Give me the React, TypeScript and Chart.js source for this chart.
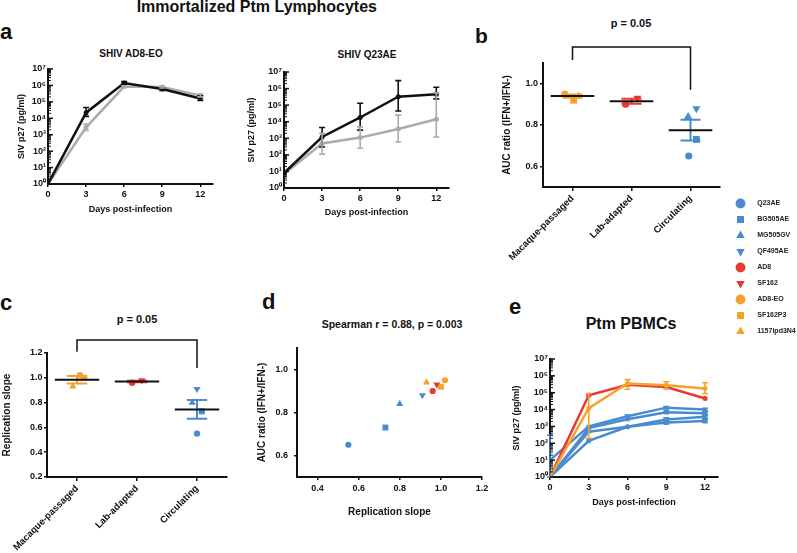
import React, { useEffect, useRef } from "react";
import { Chart, registerables } from "chart.js";
Chart.register(...registerables);

const FONT = '"Liberation Sans", Arial, Helvetica, sans-serif';
Chart.defaults.font.family = FONT;
Chart.defaults.font.weight = "bold";
Chart.defaults.color = "#111";

const BLUE = "#4a8bd0";
const RED = "#e63b2e";
const ORANGE = "#f5a22c";
const GREY = "#ababab";
const BLACK = "#111";

// ---------------- data ----------------
const days = [0, 3, 6, 9, 12];
const logTickValues = [1, 10, 100, 1e3, 1e4, 1e5, 1e6, 1e7];
const logTickLabels = ["10⁰", "10¹", "10²", "10³", "10⁴", "10⁵", "10⁶", "10⁷"];
const logMinorMultipliers = [1, 2, 3, 4, 5, 6, 7, 8, 9];

// panel a – SHIV AD8-EO
const a1Black = [1, 2.2e4, 1.4e6, 6e5, 1.6e5];
const a1BlackLo = [null, 1.3e4, 1.2e6, 5e5, 1.2e5];
const a1BlackHi = [null, 4.5e4, 1.7e6, 7e5, 2.3e5];
const a1Grey = [1, 2.8e3, 8.5e5, 8e5, 2.4e5];
const a1GreyLo = [null, 1.8e3, 7.5e5, 7e5, 2e5];
const a1GreyHi = [null, 4.5e3, 9.5e5, 9e5, 3e5];

// panel a – SHIV Q23AE
const a2Black = [8, 1.2e3, 1.8e4, 3.2e5, 4.5e5];
const a2BlackLo = [null, 3e2, 3.1e3, 4.4e4, 2.4e5];
const a2BlackHi = [null, 4.5e3, 1.3e5, 3e6, 1.2e6];
const a2Grey = [7, 4.9e2, 1.1e3, 3.6e3, 1.4e4];
const a2GreyLo = [null, 1.1e2, 2.5e2, 6e2, 1.2e3];
const a2GreyHi = [null, 2e3, 4.9e3, 2.5e4, 5.5e5];

// strains
const strains = ["Q23AE", "BG505AE", "MG505GV", "QF495AE", "AD8", "SF162", "AD8-EO", "SF162P3", "1157ipd3N4"];
const strainGroup = [2, 2, 2, 2, 1, 1, 0, 0, 0];
const strainShape = ["circle", "rect", "triangle", "triangle", "circle", "triangle", "circle", "rect", "triangle"];
const strainRotation = [0, 0, 0, 180, 0, 180, 0, 0, 0];
const strainColor = [BLUE, BLUE, BLUE, BLUE, RED, RED, ORANGE, ORANGE, ORANGE];

const groupLabels = ["Macaque-passaged", "Lab-adapted", "Circulating"];
const groupX = [1, 2, 3];
const groupColor = [ORANGE, RED, BLUE];

// panel b – AUC ratio
const aucRatio = [0.65, 0.73, 0.84, 0.88, 0.9, 0.93, 0.95, 0.92, 0.94];
const aucJitter = [-0.03, 0.1, -0.04, 0.1, -0.1, 0.1, -0.13, 0.02, 0.1];
const aucMean = [0.94, 0.915, 0.775];
const aucSem = [0.008, 0.012, 0.05];
const aucBracket = [1.115, 1.178, 1.178, 0.97];
const aucTicks = [0.6, 0.8, 1.0];

// panel c – replication slope
const replSlope = [0.55, 0.73, 0.8, 0.91, 0.96, 0.98, 1.02, 1.0, 0.93];
const replJitter = [0, 0.08, -0.08, 0, -0.08, 0.08, 0.05, 0.12, -0.07];
const replMean = [0.985, 0.97, 0.745];
const replSem = [0.03, 0.006, 0.075];
const replBracket = [1.21, 1.305, 1.305, 1.08];
const replTicks = [0.2, 0.4, 0.6, 0.8, 1.0, 1.2];
const bracketX = [1, 1, 3, 3];

// panel d
const dXTicks = [0.4, 0.6, 0.8, 1.0, 1.2];
const dYTicks = [0.6, 0.8, 1.0];

// panel e – Ptm PBMCs
const eRed = [1, 7e4, 3e5, 2.2e5, 4.5e4];
const eOrange = [1, 1.2e4, 3.5e5, 2.8e5, 1.8e5];
const eOrangeLo = [null, 2e2, 1.6e5, 1.7e5, 9e4];
const eOrangeHi = [null, 9e4, 6e5, 4.5e5, 3.9e5];
const eBlueA = [10, 1e3, 4e3, 1.3e4, 1e4];
const eBlueALo = [1, null, 3.3e3, 1.1e4, 8.5e3];
const eBlueAHi = [300, null, 4.8e3, 1.5e4, 1.2e4];
const eBlueB = [1, 800, 2.7e3, 7e3, 6e3];
const eBlueBLo = [null, null, null, 5.8e3, 5e3];
const eBlueBHi = [null, null, null, 8.5e3, 7.2e3];
const eBlueC = [1, 480, 950, 2.6e3, 3.7e3];
const eBlueCLo = [null, null, null, 2.1e3, 3e3];
const eBlueCHi = [null, null, null, 3.2e3, 4.4e3];
const eBlueD = [1, 140, 950, 1.7e3, 2.1e3];
const eBlueDLo = [null, null, null, 1.4e3, 1.7e3];
const eBlueDHi = [null, null, null, 2.1e3, 2.6e3];

// ---------------- helpers ----------------
const logAllTicks: number[] = [];
for (let k = 0; k < 7; k++) for (const m of logMinorMultipliers) logAllTicks.push(m * Math.pow(10, k));
logAllTicks.push(1e7);

const errorBars = {
  id: "errorBars",
  afterDatasetsDraw(chart: any) {
    const ctx = chart.ctx;
    const ys = chart.scales.y;
    chart.data.datasets.forEach((ds: any, i: number) => {
      if (!ds.errLo) return;
      const meta = chart.getDatasetMeta(i);
      ctx.save();
      ctx.strokeStyle = ds.borderColor;
      ctx.lineWidth = 1.6;
      meta.data.forEach((pt: any, j: number) => {
        const lo = ds.errLo[j];
        const hi = ds.errHi[j];
        if (lo == null || hi == null) return;
        const x = pt.x;
        const y1 = ys.getPixelForValue(lo);
        const y2 = ys.getPixelForValue(hi);
        ctx.beginPath();
        ctx.moveTo(x, y1);
        ctx.lineTo(x, y2);
        ctx.moveTo(x - 3, y1);
        ctx.lineTo(x + 3, y1);
        ctx.moveTo(x - 3, y2);
        ctx.lineTo(x + 3, y2);
        ctx.stroke();
      });
      ctx.restore();
    });
  },
};

const inwardTicks = {
  id: "inwardTicks",
  afterDatasetsDraw(chart: any) {
    const s = chart.scales.y;
    const ctx = chart.ctx;
    ctx.save();
    ctx.strokeStyle = BLACK;
    s.ticks.forEach((t: any) => {
      const y = s.getPixelForValue(t.value);
      const major = logTickValues.includes(t.value);
      ctx.lineWidth = major ? 1.5 : 1;
      ctx.beginPath();
      ctx.moveTo(s.right, y);
      ctx.lineTo(s.right + (major ? 5 : 3), y);
      ctx.stroke();
    });
    ctx.restore();
  },
};

const tickFont = { size: 9, weight: "bold" as const, family: FONT };
const axisBorder = { display: true, color: BLACK, width: 2 };

function logY(title: string) {
  return {
    type: "logarithmic",
    min: 1,
    max: 1e7,
    afterBuildTicks: (s: any) => {
      s.ticks = logAllTicks.map((v) => ({ value: v }));
    },
    ticks: {
      autoSkip: false,
      padding: 2,
      font: tickFont,
      color: BLACK,
      callback: (v: any) => {
        const i = logTickValues.indexOf(v);
        return i >= 0 ? logTickLabels[i] : "";
      },
    },
    grid: { drawOnChartArea: false, drawTicks: false },
    border: axisBorder,
    title: { display: true, text: title, font: { size: 9, weight: "bold" }, color: BLACK, padding: { top: 2, bottom: 2 } },
  };
}

function daysX() {
  return {
    type: "linear",
    min: 0,
    max: 13,
    afterBuildTicks: (s: any) => {
      s.ticks = days.map((v) => ({ value: v }));
    },
    ticks: { autoSkip: false, padding: 2, font: tickFont, color: BLACK, maxRotation: 0 },
    grid: { drawOnChartArea: false, drawTicks: true, tickLength: 3, color: BLACK, lineWidth: 1.5 },
    border: axisBorder,
    title: { display: true, text: "Days post-infection", font: { size: 9, weight: "bold" }, color: BLACK, padding: { top: 2, bottom: 2 } },
  };
}

function linY(min: number, max: number, ticks: number[], title: string, pad: number, titlePadTop: number) {
  return {
    type: "linear",
    min,
    max,
    afterBuildTicks: (s: any) => {
      s.ticks = ticks.map((v) => ({ value: v }));
    },
    ticks: { autoSkip: false, padding: pad, font: tickFont, color: BLACK, callback: (v: any) => Number(v).toFixed(1) },
    grid: { drawOnChartArea: false, drawTicks: true, tickLength: 3, color: BLACK, lineWidth: 1.5 },
    border: axisBorder,
    title: { display: true, text: title, font: { size: 10, weight: "bold" }, color: BLACK, padding: { top: titlePadTop, bottom: 2 } },
  };
}

function series(values: number[], color: string, lo?: any[], hi?: any[], extra: any = {}) {
  return {
    data: days.map((d, i) => ({ x: d, y: values[i] })),
    showLine: true,
    borderColor: color,
    backgroundColor: color,
    borderWidth: 2.5,
    pointRadius: 2.5,
    pointBorderWidth: 0,
    errLo: lo,
    errHi: hi,
    ...extra,
  };
}

const shapeScale: any = { circle: 1, rect: 1.35, triangle: 1.3 };

function strainPoint(i: number, x: number, y: number, r: number, order: number) {
  return {
    label: strains[i],
    data: [{ x, y }],
    pointStyle: strainShape[i],
    pointRotation: strainRotation[i],
    pointRadius: r * shapeScale[strainShape[i]],
    backgroundColor: strainColor[i],
    borderColor: strainColor[i],
    pointBorderWidth: 0,
    order,
  };
}

function dotPlotDatasets(vals: number[], jitter: number[], means: number[], sems: number[], bracket: number[], r: number) {
  const ds: any[] = [];
  ds.push({
    data: bracketX.map((x, i) => ({ x, y: bracket[i] })),
    showLine: true,
    borderColor: BLACK,
    borderWidth: 1.5,
    pointRadius: 0,
    clip: false,
    order: 0,
  });
  groupX.forEach((g, gi) => {
    ds.push({
      data: [
        { x: g - 0.37, y: means[gi] },
        { x: g + 0.37, y: means[gi] },
      ],
      showLine: true,
      borderColor: BLACK,
      borderWidth: 2,
      pointRadius: 0,
      order: 0,
    });
    const hi = means[gi] + sems[gi];
    const lo = means[gi] - sems[gi];
    ds.push({
      data: [
        { x: g - 0.17, y: hi },
        { x: g + 0.17, y: hi },
        { x: g, y: null },
        { x: g, y: hi },
        { x: g, y: lo },
        { x: g, y: null },
        { x: g - 0.17, y: lo },
        { x: g + 0.17, y: lo },
      ],
      showLine: true,
      spanGaps: false,
      borderColor: groupColor[gi],
      borderWidth: 2,
      pointRadius: 0,
      order: 1,
    });
  });
  strains.forEach((_, i) => {
    ds.push(strainPoint(i, groupX[strainGroup[i]] + jitter[i], vals[i], r, 2));
  });
  return ds;
}

function groupXScale() {
  return {
    type: "linear",
    min: 0.5,
    max: 3.5,
    afterBuildTicks: (s: any) => {
      s.ticks = groupX.map((v) => ({ value: v }));
    },
    ticks: {
      autoSkip: false,
      minRotation: 45,
      maxRotation: 45,
      padding: 2,
      font: { size: 9.5, weight: "bold", family: FONT },
      color: BLACK,
      callback: (v: any) => groupLabels[groupX.indexOf(v)],
    },
    grid: { drawOnChartArea: false, drawTicks: true, tickLength: 4, color: BLACK, lineWidth: 1.5 },
    border: axisBorder,
  };
}

type Box = { x: number; y: number; w: number; h: number };
type Area = { l: number; t: number; r: number; b: number };

function place(box: Box, area: Area, cfg: any) {
  const xH = box.y + box.h - area.b;
  const yW = area.l - box.x;
  const zero = (s: any) => {
    s.paddingLeft = 0;
    s.paddingRight = 0;
    s.paddingTop = 0;
    s.paddingBottom = 0;
  };
  cfg.options.layout = { padding: { left: 0, top: area.t - box.y, right: box.x + box.w - area.r, bottom: 0 } };
  cfg.options.scales.x.afterFit = (s: any) => {
    s.height = xH;
    zero(s);
  };
  cfg.options.scales.y.afterFit = (s: any) => {
    s.width = yW;
    zero(s);
  };
  return cfg;
}

function baseOptions(scales: any) {
  return {
    animation: false,
    responsive: false,
    events: [],
    plugins: { legend: { display: false }, tooltip: { enabled: false }, title: { display: false } },
    scales,
  };
}

function ChartCanvas({ box, make }: { box: Box; make: () => any }) {
  const ref = useRef<HTMLCanvasElement>(null);
  useEffect(() => {
    const chart = new Chart(ref.current as HTMLCanvasElement, make());
    return () => chart.destroy();
  }, []);
  return (
    <canvas
      ref={ref}
      width={box.w}
      height={box.h}
      style={{ position: "absolute", left: box.x, top: box.y, width: box.w, height: box.h }}
    />
  );
}

function Text({ x, base, size, text, align = "left" }: { x: number; base: number; size: number; text: string; align?: string }) {
  const style: any = {
    position: "absolute",
    top: base - 0.8465 * size,
    fontFamily: FONT,
    fontWeight: "bold",
    fontSize: size,
    lineHeight: 1,
    whiteSpace: "nowrap",
    color: BLACK,
  };
  if (align === "center") {
    style.left = x;
    style.transform = "translateX(-50%)";
  } else if (align === "right") {
    style.right = 797 - x;
  } else style.left = x;
  return <div style={style}>{text}</div>;
}

// ---------------- configs ----------------
const boxA1 = { x: 14, y: 60, w: 211, h: 157 };
const areaA1 = { l: 48, t: 69, r: 213, b: 184 };
const boxA2 = { x: 244, y: 60, w: 216, h: 160 };
const areaA2 = { l: 284, t: 72, r: 449, b: 188 };
const boxB = { x: 499, y: 30, w: 231, h: 240 };
const areaB = { l: 543, t: 63, r: 720, b: 187 };
const boxC = { x: 1, y: 315, w: 236, h: 238 };
const areaC = { l: 47, t: 353, r: 227, b: 477 };
const boxD = { x: 254, y: 340, w: 240, h: 180 };
const areaD = { l: 297, t: 348, r: 482, b: 477 };
const boxE = { x: 509, y: 350, w: 221, h: 160 };
const areaE = { l: 550, t: 359, r: 718, b: 477 };
const boxLegend = { x: 728, y: 191, w: 69, h: 180 };

const makeA1 = () =>
  place(boxA1, areaA1, {
    type: "scatter",
    data: {
      datasets: [
        series(a1Black, BLACK, a1BlackLo, a1BlackHi, { order: 0 }),
        series(a1Grey, GREY, a1GreyLo, a1GreyHi, { order: 1 }),
      ],
    },
    options: baseOptions({ x: daysX(), y: logY("SIV p27 (pg/ml)") }),
    plugins: [errorBars, inwardTicks],
  });

const makeA2 = () =>
  place(boxA2, areaA2, {
    type: "scatter",
    data: {
      datasets: [
        series(a2Black, BLACK, a2BlackLo, a2BlackHi, { order: 0 }),
        series(a2Grey, GREY, a2GreyLo, a2GreyHi, { order: 1 }),
      ],
    },
    options: baseOptions({ x: daysX(), y: logY("SIV p27 (pg/ml)") }),
    plugins: [errorBars, inwardTicks],
  });

const makeB = () =>
  place(boxB, areaB, {
    type: "scatter",
    data: { datasets: dotPlotDatasets(aucRatio, aucJitter, aucMean, aucSem, aucBracket, 3.6) },
    options: baseOptions({ x: groupXScale(), y: linY(0.5, 1.1, aucTicks, "AUC ratio (IFN+/IFN-)", 2, 2) }),
  });

const makeC = () =>
  place(boxC, areaC, {
    type: "scatter",
    data: { datasets: dotPlotDatasets(replSlope, replJitter, replMean, replSem, replBracket, 3.2) },
    options: baseOptions({ x: groupXScale(), y: linY(0.2, 1.2, replTicks, "Replication slope", 1.5, 0) }),
  });

const makeD = () => {
  const x = {
    type: "linear",
    min: 0.3,
    max: 1.2,
    afterBuildTicks: (s: any) => {
      s.ticks = dXTicks.map((v) => ({ value: v }));
    },
    ticks: { autoSkip: false, padding: 3, font: tickFont, color: BLACK, maxRotation: 0, callback: (v: any) => Number(v).toFixed(1) },
    grid: { drawOnChartArea: false, drawTicks: true, tickLength: 3, color: BLACK, lineWidth: 1.5 },
    border: axisBorder,
    title: { display: true, text: "Replication slope", font: { size: 10, weight: "bold" }, color: BLACK, padding: { top: 2, bottom: 2 } },
  };
  return place(boxD, areaD, {
    type: "scatter",
    data: { datasets: strains.map((_, i) => strainPoint(i, replSlope[i], aucRatio[i], 3.1, 0)) },
    options: baseOptions({ x, y: linY(0.5, 1.1, dYTicks, "AUC ratio (IFN+/IFN-)", 6, 2) }),
  });
};

const makeE = () =>
  place(boxE, areaE, {
    type: "scatter",
    data: {
      datasets: [
        series(eRed, RED, undefined, undefined, { order: 1, pointRadius: 2.5 }),
        series(eOrange, ORANGE, eOrangeLo, eOrangeHi, { order: 0, pointRadius: 2.5 }),
        series(eBlueA, BLUE, eBlueALo, eBlueAHi, { order: 2, pointStyle: "triangle", pointRotation: 180, pointRadius: 3 }),
        series(eBlueB, BLUE, eBlueBLo, eBlueBHi, { order: 3, pointStyle: "rect", pointRadius: 3 }),
        series(eBlueC, BLUE, eBlueCLo, eBlueCHi, { order: 4, pointStyle: "triangle", pointRadius: 3 }),
        series(eBlueD, BLUE, eBlueDLo, eBlueDHi, { order: 5, pointStyle: "circle", pointRadius: 2.5 }),
      ],
    },
    options: baseOptions({ x: daysX(), y: logY("SIV p27 (pg/ml)") }),
    plugins: [errorBars, inwardTicks],
  });

const makeLegend = () => ({
  type: "scatter",
  data: {
    datasets: strains.map((s, i) => ({
      label: "     " + s,
      data: [],
      pointStyle: strainShape[i],
      pointRotation: strainRotation[i],
      backgroundColor: strainColor[i],
      borderColor: strainColor[i],
      pointBorderWidth: 0,
    })),
  },
  options: {
    animation: false,
    responsive: false,
    events: [],
    layout: { padding: 0 },
    scales: { x: { display: false }, y: { display: false } },
    plugins: {
      tooltip: { enabled: false },
      legend: {
        position: "left",
        align: "start",
        maxWidth: 69,
        labels: {
          usePointStyle: true,
          padding: 9,
          color: "#222",
          font: { size: 7, weight: "bold", family: FONT },
        },
      },
    },
  },
});

export default function App() {
  return (
    <div style={{ position: "absolute", left: 0, top: 0, width: 797, height: 553, background: "#fff", overflow: "hidden" }}>
      <Text x={377} base={13} size={16} text="Immortalized Ptm Lymphocytes" align="right" />
      <Text x={0} base={40} size={22} text="a" />
      <Text x={475} base={43} size={21} text="b" />
      <Text x={0} base={311} size={22} text="c" />
      <Text x={262} base={310} size={22} text="d" />
      <Text x={509} base={315} size={22} text="e" />
      <Text x={131} base={57} size={10} text="SHIV AD8-EO" align="center" />
      <Text x={367} base={58} size={10} text="SHIV Q23AE" align="center" />
      <Text x={631} base={27} size={11} text="p = 0.05" align="center" />
      <Text x={137} base={323} size={11} text="p = 0.05" align="center" />
      <Text x={392} base={328} size={10.5} text="Spearman r = 0.88, p = 0.003" align="center" />
      <Text x={631} base={330} size={16} text="Ptm PBMCs" align="center" />
      <ChartCanvas box={boxA1} make={makeA1} />
      <ChartCanvas box={boxA2} make={makeA2} />
      <ChartCanvas box={boxB} make={makeB} />
      <ChartCanvas box={boxC} make={makeC} />
      <ChartCanvas box={boxD} make={makeD} />
      <ChartCanvas box={boxE} make={makeE} />
      <ChartCanvas box={boxLegend} make={makeLegend} />
    </div>
  );
}
